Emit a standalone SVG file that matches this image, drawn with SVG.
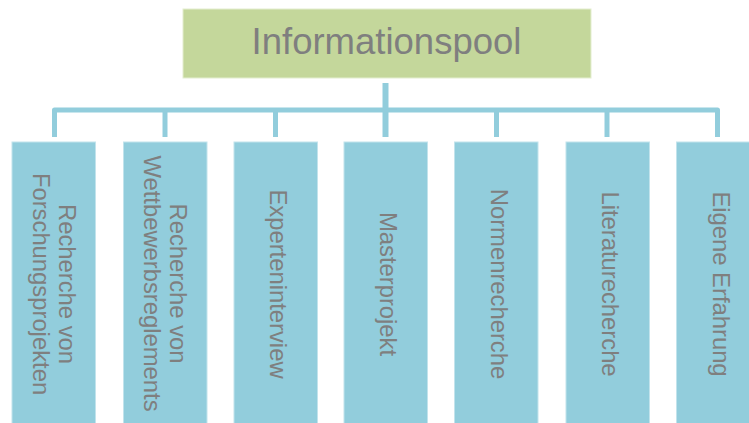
<svg xmlns="http://www.w3.org/2000/svg" width="749" height="423" viewBox="0 0 749 423">
  <style>
    .root { fill: #c4d79b; stroke: #e4eed0; stroke-width: 1; }
    .leaf { fill: #92cddc; stroke: #c2e3ec; stroke-width: 1; }
    .wire { fill: none; stroke: #92cddc; stroke-width: 5; stroke-linejoin: round; }
    .label { font-family: "Liberation Sans", Arial, sans-serif; fill: #7f7f7f; }
    .title { font-size: 36.5px; text-anchor: middle; }
    .vert { font-size: 23.8px; text-anchor: middle; }
  </style>
  <rect width="749" height="423" fill="#ffffff"/>

  <!-- connectors -->
  <g id="connectors">
    <line class="wire" x1="385.5" y1="83" x2="385.5" y2="137" style="stroke-width:6"/>
    <path class="wire" d="M54.5,137 V110 H717.5 V137"/>
    <line class="wire" x1="165" y1="110" x2="165" y2="137"/>
    <line class="wire" x1="275.5" y1="110" x2="275.5" y2="137"/>
    <line class="wire" x1="496.5" y1="110" x2="496.5" y2="137"/>
    <line class="wire" x1="607" y1="110" x2="607" y2="137"/>
  </g>

  <!-- root -->
  <g id="informationspool">
    <rect class="root" x="183" y="9" width="408" height="69"/>
    <text class="label title" x="386.5" y="54.3">Informationspool</text>
  </g>

  <!-- sources -->
  <g id="forschungsprojekte">
    <rect class="leaf" x="12" y="142" width="83.5" height="282"/>
    <text class="label vert" transform="translate(58.8,284) rotate(90)">Recherche von</text>
    <text class="label vert" transform="translate(32.8,284) rotate(90)">Forschungsprojekten</text>
  </g>
  <g id="wettbewerbsreglements">
    <rect class="leaf" x="123.5" y="142" width="83.5" height="282"/>
    <text class="label vert" transform="translate(169.8,283.5) rotate(90)">Recherche von</text>
    <text class="label vert" transform="translate(143.6,283.5) rotate(90)">Wettbewerbsreglements</text>
  </g>
  <g id="experteninterview">
    <rect class="leaf" x="234" y="142" width="83.5" height="282"/>
    <text class="label vert" transform="translate(270,284) rotate(90)">Experteninterview</text>
  </g>
  <g id="masterprojekt">
    <rect class="leaf" x="344" y="142" width="83.5" height="282"/>
    <text class="label vert" transform="translate(380.2,284) rotate(90)">Masterprojekt</text>
  </g>
  <g id="normenrecherche">
    <rect class="leaf" x="454.5" y="142" width="83.5" height="282"/>
    <text class="label vert" transform="translate(490.7,284) rotate(90)">Normenrecherche</text>
  </g>
  <g id="literaturecherche">
    <rect class="leaf" x="566" y="142" width="83.5" height="282"/>
    <text class="label vert" transform="translate(602.2,284) rotate(90)">Literaturecherche</text>
  </g>
  <g id="eigene-erfahrung">
    <rect class="leaf" x="676.5" y="142" width="83.5" height="282"/>
    <text class="label vert" transform="translate(712.7,284) rotate(90)">Eigene Erfahrung</text>
  </g>
</svg>
